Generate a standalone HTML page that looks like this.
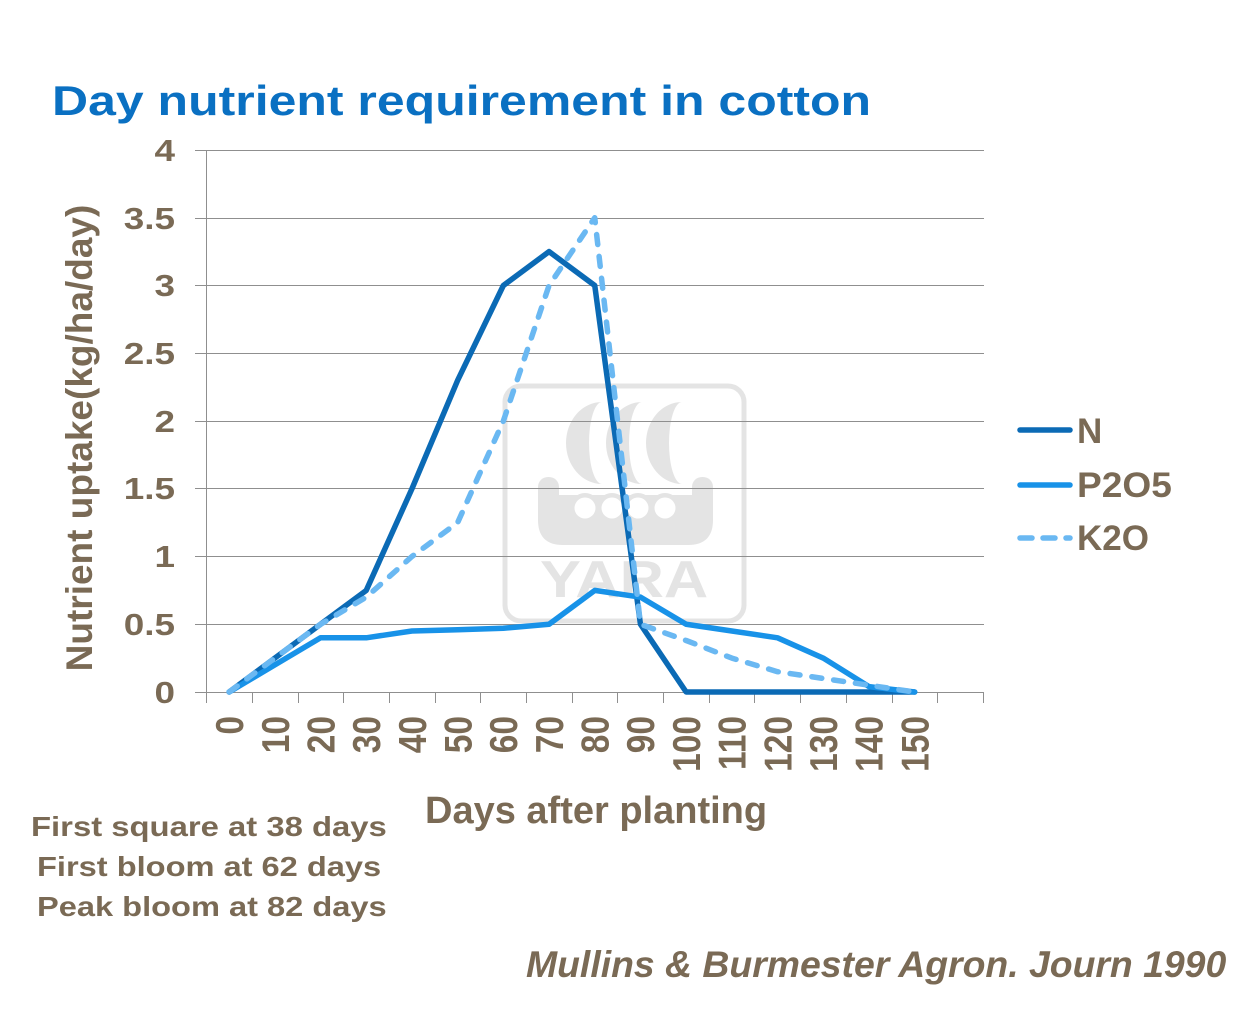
<!DOCTYPE html>
<html>
<head>
<meta charset="utf-8">
<style>
  html,body{margin:0;padding:0;background:#ffffff;}
  svg{display:block;}
  text{font-family:"Liberation Sans", Arial, sans-serif;}
</style>
</head>
<body>
<svg width="1250" height="1009" viewBox="0 0 1250 1009" xmlns="http://www.w3.org/2000/svg">
  <rect x="0" y="0" width="1250" height="1009" fill="#ffffff"/>

  <!-- Title -->
  <text transform="translate(52,115) scale(1.19,1)" font-size="42" font-weight="bold" fill="#0a70c2">Day nutrient requirement in cotton</text>

  <!-- Watermark -->
  <g fill="#e4e4e4">
    <rect x="505" y="386" width="239" height="235" rx="16" ry="16" fill="none" stroke="#e4e4e4" stroke-width="5"/>
    <path d="M602 402 A36 41 0 0 0 602 484 A13 41 0 0 1 602 402 Z"/>
    <path d="M642 402 A36 41 0 0 0 642 484 A13 41 0 0 1 642 402 Z"/>
    <path d="M682 402 A36 41 0 0 0 682 484 A13 41 0 0 1 682 402 Z"/>
    <rect x="538" y="477" width="21" height="50" rx="10"/>
    <rect x="692" y="477" width="21" height="50" rx="10"/>
    <path d="M538 495 L713 495 L713 520 Q713 545 688 545 L563 545 Q538 545 538 520 Z"/>
    <circle cx="585" cy="508" r="15"/>
    <circle cx="612" cy="508" r="15"/>
    <circle cx="638" cy="508" r="15"/>
    <circle cx="665" cy="508" r="15"/>
    <circle cx="585" cy="508" r="10.5" fill="#ffffff"/>
    <circle cx="612" cy="508" r="10.5" fill="#ffffff"/>
    <circle cx="638" cy="508" r="10.5" fill="#ffffff"/>
    <circle cx="665" cy="508" r="10.5" fill="#ffffff"/>
    <text transform="translate(540,597) scale(1.18,1)" font-size="52" font-weight="bold">YARA</text>
  </g>

  <!-- Gridlines + y ticks -->
  <g stroke="#8f8f8f" stroke-width="1">
    <line x1="195" y1="150.5" x2="984" y2="150.5"/>
    <line x1="195" y1="218.5" x2="984" y2="218.5"/>
    <line x1="195" y1="285.5" x2="984" y2="285.5"/>
    <line x1="195" y1="353.5" x2="984" y2="353.5"/>
    <line x1="195" y1="421.5" x2="984" y2="421.5"/>
    <line x1="195" y1="488.5" x2="984" y2="488.5"/>
    <line x1="195" y1="556.5" x2="984" y2="556.5"/>
    <line x1="195" y1="624.5" x2="984" y2="624.5"/>
    <line x1="195" y1="692.5" x2="984" y2="692.5"/>
    <line x1="206.5" y1="150" x2="206.5" y2="703"/>
    <line x1="252.5" y1="692" x2="252.5" y2="703"/>
    <line x1="298.5" y1="692" x2="298.5" y2="703"/>
    <line x1="343.5" y1="692" x2="343.5" y2="703"/>
    <line x1="389.5" y1="692" x2="389.5" y2="703"/>
    <line x1="435.5" y1="692" x2="435.5" y2="703"/>
    <line x1="480.5" y1="692" x2="480.5" y2="703"/>
    <line x1="526.5" y1="692" x2="526.5" y2="703"/>
    <line x1="572.5" y1="692" x2="572.5" y2="703"/>
    <line x1="617.5" y1="692" x2="617.5" y2="703"/>
    <line x1="663.5" y1="692" x2="663.5" y2="703"/>
    <line x1="709.5" y1="692" x2="709.5" y2="703"/>
    <line x1="754.5" y1="692" x2="754.5" y2="703"/>
    <line x1="800.5" y1="692" x2="800.5" y2="703"/>
    <line x1="846.5" y1="692" x2="846.5" y2="703"/>
    <line x1="892.5" y1="692" x2="892.5" y2="703"/>
    <line x1="937.5" y1="692" x2="937.5" y2="703"/>
    <line x1="983.5" y1="692" x2="983.5" y2="703"/>
  </g>

  <!-- Y labels -->
  <g font-size="31" font-weight="bold" fill="#7a6a55" text-anchor="end">
    <text transform="translate(175,161) scale(1.19,1)">4</text>
    <text transform="translate(175,229) scale(1.19,1)">3.5</text>
    <text transform="translate(175,296) scale(1.19,1)">3</text>
    <text transform="translate(175,364) scale(1.19,1)">2.5</text>
    <text transform="translate(175,432) scale(1.19,1)">2</text>
    <text transform="translate(175,499) scale(1.19,1)">1.5</text>
    <text transform="translate(175,567) scale(1.19,1)">1</text>
    <text transform="translate(175,635) scale(1.19,1)">0.5</text>
    <text transform="translate(175,703) scale(1.19,1)">0</text>
  </g>

  <!-- Y axis title -->
  <text transform="translate(92,438) rotate(-90)" font-size="37" font-weight="bold" fill="#7a6a55" text-anchor="middle">Nutrient uptake(kg/ha/day)</text>

  <!-- X labels (rotated) -->
  <g font-size="33.5" font-weight="bold" fill="#7a6a55" text-anchor="end">
    <text transform="translate(243,716) scale(1.16,1) rotate(-90)">0</text>
    <text transform="translate(289,716) scale(1.16,1) rotate(-90)">10</text>
    <text transform="translate(334.5,716) scale(1.16,1) rotate(-90)">20</text>
    <text transform="translate(380,716) scale(1.16,1) rotate(-90)">30</text>
    <text transform="translate(426,716) scale(1.16,1) rotate(-90)">40</text>
    <text transform="translate(471.5,716) scale(1.16,1) rotate(-90)">50</text>
    <text transform="translate(517,716) scale(1.16,1) rotate(-90)">60</text>
    <text transform="translate(563,716) scale(1.16,1) rotate(-90)">70</text>
    <text transform="translate(608.5,716) scale(1.16,1) rotate(-90)">80</text>
    <text transform="translate(654,716) scale(1.16,1) rotate(-90)">90</text>
    <text transform="translate(700,716) scale(1.16,1) rotate(-90)">100</text>
    <text transform="translate(745.5,716) scale(1.16,1) rotate(-90)">110</text>
    <text transform="translate(791.5,716) scale(1.16,1) rotate(-90)">120</text>
    <text transform="translate(837,716) scale(1.16,1) rotate(-90)">130</text>
    <text transform="translate(882.5,716) scale(1.16,1) rotate(-90)">140</text>
    <text transform="translate(928.5,716) scale(1.16,1) rotate(-90)">150</text>
  </g>

  <!-- X axis title -->
  <text x="425" y="823" font-size="38" font-weight="bold" fill="#7a6a55">Days after planting</text>

  <!-- Series -->
  <g fill="none" stroke-linejoin="round">
    <polyline stroke="#0b6ab5" stroke-width="5.5" stroke-linecap="round"
      points="229.15,692 274.85,658.1 320.55,624.25 366.25,590.4 411.95,488.75 457.65,380.35 503.35,285.5 549.05,251.6 594.75,285.5 640.45,624.25 686.15,692 731.85,692 777.55,692 823.25,692 868.95,692 914.65,692"/>
    <polyline stroke="#1892e8" stroke-width="5.5" stroke-linecap="round"
      points="229.15,692 274.85,664.9 320.55,637.8 366.25,637.8 411.95,631 457.65,629.7 503.35,628.3 549.05,624.25 594.75,590.4 640.45,597.15 686.15,624.25 731.85,631 777.55,637.8 823.25,658.1 868.95,686.6 914.65,692"/>
    <polyline stroke="#6ab8f2" stroke-width="5.5" stroke-linecap="round" stroke-dasharray="10 12"
      points="229.15,692 274.85,658.1 320.55,624.25 366.25,597.15 411.95,556.5 457.65,522.6 503.35,421 549.05,285.5 594.75,217.75 640.45,624.25 686.15,640.5 731.85,658.1 777.55,671.7 823.25,678.45 868.95,685.2 914.65,692"/>
  </g>

  <!-- Legend -->
  <g stroke-width="5.5" stroke-linecap="round">
    <line x1="1020" y1="430" x2="1070" y2="430" stroke="#0b6ab5"/>
    <line x1="1020" y1="485" x2="1070" y2="485" stroke="#1892e8"/>
    <line x1="1020" y1="538" x2="1070" y2="538" stroke="#6ab8f2" stroke-dasharray="12 11"/>
  </g>
  <g font-size="35" font-weight="bold" fill="#7a6a55">
    <text x="1077" y="443">N</text>
    <text transform="translate(1077,497) scale(1.06,1)">P2O5</text>
    <text transform="translate(1077,550) scale(1.0,1)">K2O</text>
  </g>

  <!-- Notes -->
  <g font-size="28" font-weight="bold" fill="#7a6a55">
    <text transform="translate(31,836) scale(1.173,1)">First square at 38 days</text>
    <text transform="translate(37,876) scale(1.165,1)">First bloom at 62 days</text>
    <text transform="translate(37,916) scale(1.165,1)">Peak bloom at 82 days</text>
  </g>

  <!-- Citation -->
  <text transform="translate(526,977) scale(1.01,1)" font-size="37" font-weight="bold" font-style="italic" fill="#7a6a55">Mullins &amp; Burmester Agron. Journ 1990</text>
</svg>
</body>
</html>
